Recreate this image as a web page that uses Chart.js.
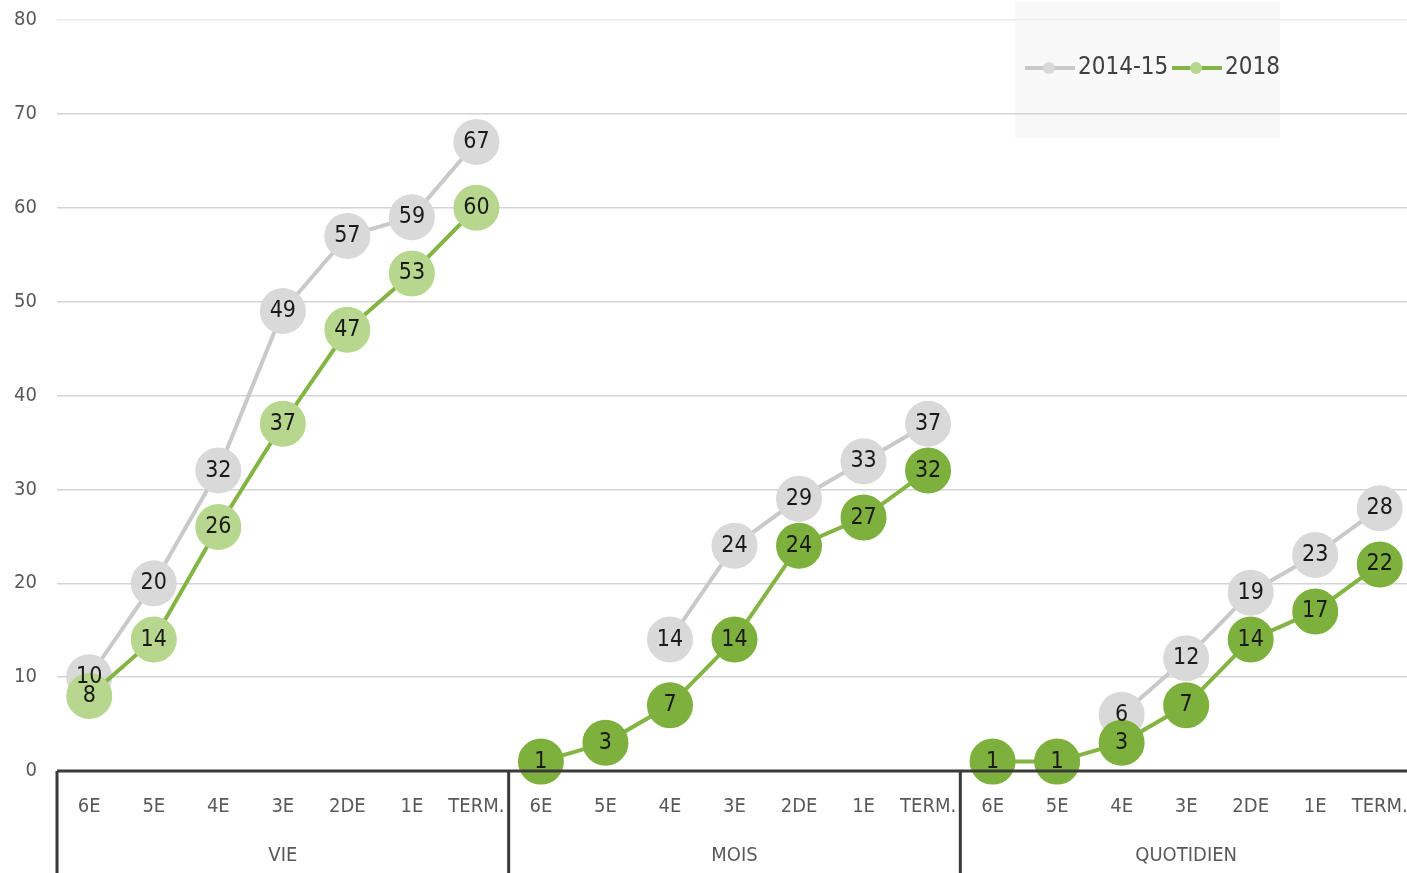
<!DOCTYPE html>
<html>
<head>
<meta charset="utf-8">
<script src="https://cdn.jsdelivr.net/npm/chart.js@4"></script>
<style>
  html, body { margin: 0; padding: 0; overflow: hidden; background: #fff; }
  #wrap { width: 1412px; height: 873px; position: relative; }
</style>
</head>
<body>
<div id="wrap"><canvas id="chart"></canvas></div>
<script>
// classes repeated in each group
const classes = ["6E", "5E", "4E", "3E", "2DE", "1E", "TERM."];
const groups = ["VIE", "MOIS", "QUOTIDIEN"];
const labels = groups.flatMap(() => classes);

// values per group: VIE, MOIS, QUOTIDIEN
const serie2014 = [10, 20, 32, 49, 57, 59, 67,  null, null, 14, 24, 29, 33, 37,  null, null, 6, 12, 19, 23, 28];
const serie2018 = [8, 14, 26, 37, 47, 53, 60,  1, 3, 7, 14, 24, 27, 32,  1, 1, 3, 7, 14, 17, 22];
const yTicks = [0, 10, 20, 30, 40, 50, 60, 70, 80];

const GRAY = "#c9c9c9";
const GRAY_PT = "#d9d9d9";
const GREEN = "#84b443";
const GREEN_LIGHT = "#b7d78f";
const GREEN_PT = "#7eb03d";
const NARROW = "'Liberation Sans Narrow', 'DejaVu Sans Condensed', sans-serif";

// hide the link between the last class of a group and the first of the next
const cutGroups = (color) => ({
  borderColor: ctx => (ctx.p0DataIndex % 7 === 6 ? "rgba(0,0,0,0)" : color)
});

const groupAxis = {
  id: "groupAxis",
  beforeDraw(chart) {
    const ctx = chart.ctx;
    ctx.save();
    ctx.fillStyle = "#f8f8f8";
    ctx.fillRect(1015, 2, 265, 136);
    ctx.restore();
  },
  afterDraw(chart) {
    const ctx = chart.ctx;
    const x = chart.scales.x;
    const area = chart.chartArea;
    const half = (x.getPixelForValue(1) - x.getPixelForValue(0)) / 2;
    ctx.save();
    ctx.strokeStyle = "#3a3a3a";
    ctx.lineWidth = 3;
    ctx.beginPath();
    ctx.moveTo(area.left, area.bottom);
    ctx.lineTo(chart.width, area.bottom);
    groups.forEach((g, i) => {
      const edge = x.getPixelForValue(i * 7) - half;
      ctx.moveTo(edge, area.bottom);
      ctx.lineTo(edge, chart.height);
    });
    ctx.stroke();
    ctx.fillStyle = "#595959";
    ctx.font = "20px " + NARROW;
    ctx.textAlign = "center";
    ctx.textBaseline = "middle";
    groups.forEach((g, i) => {
      const mid = x.getPixelForValue(i * 7 + 3);
      ctx.fillText(g, mid, 856);
    });

    // legend
    const items = [
      { text: "2014-15", line: GRAY, pt: GRAY_PT, x: 1025 },
      { text: "2018", line: GREEN, pt: GREEN_LIGHT, x: 1172 }
    ];
    items.forEach(it => {
      ctx.strokeStyle = it.line;
      ctx.lineWidth = 4;
      ctx.beginPath();
      ctx.moveTo(it.x, 68);
      ctx.lineTo(it.x + 50, 68);
      ctx.stroke();
      ctx.fillStyle = it.pt;
      ctx.beginPath();
      ctx.arc(it.x + 24, 68, 6, 0, Math.PI * 2);
      ctx.fill();
      ctx.fillStyle = "#404040";
      ctx.font = "24px " + NARROW;
      ctx.textAlign = "left";
      ctx.fillText(it.text, it.x + 53, 68);
    });
    ctx.restore();
  }
};

const valueLabels = {
  id: "valueLabels",
  afterDatasetsDraw(chart) {
    const ctx = chart.ctx;
    ctx.save();
    ctx.fillStyle = "#1a1a1a";
    ctx.font = "23px " + NARROW;
    ctx.textAlign = "center";
    ctx.textBaseline = "middle";
    [0, 1].forEach(di => {
      const meta = chart.getDatasetMeta(di);
      const data = chart.data.datasets[di].data;
      meta.data.forEach((pt, i) => {
        if (data[i] === null) return;
        ctx.fillText(String(data[i]), pt.x, pt.y);
      });
    });
    ctx.restore();
  }
};

new Chart(document.getElementById("chart"), {
  type: "line",
  data: {
    labels: labels,
    datasets: [{
      label: "2014-15",
      data: serie2014,
      order: 1,
      clip: false,
      borderColor: GRAY,
      borderWidth: 4,
      pointRadius: 21,
      pointBackgroundColor: GRAY_PT,
      pointBorderColor: GRAY_PT,
      spanGaps: false,
      segment: cutGroups(GRAY)
    }, {
      label: "2018",
      data: serie2018,
      order: 0,
      clip: false,
      borderColor: GREEN,
      borderWidth: 4,
      pointRadius: 21,
      pointBackgroundColor: ctx => (ctx.dataIndex < 7 ? GREEN_LIGHT : GREEN_PT),
      pointBorderColor: ctx => (ctx.dataIndex < 7 ? GREEN_LIGHT : GREEN_PT),
      segment: cutGroups(GREEN)
    }]
  },
  options: {
    responsive: true,
    maintainAspectRatio: false,
    animation: false,
    layout: { autoPadding: false, padding: { top: 20, right: 0, left: 0, bottom: 0 } },
    plugins: {
      legend: { display: false },
      tooltip: { enabled: false }
    },
    scales: {
      x: {
        offset: true,
        grid: { display: false },
        border: { display: false },
        ticks: {
          color: "#595959",
          font: { size: 20, family: NARROW },
          padding: 16,
          maxRotation: 0,
          autoSkip: false
        },
        afterFit: s => { s.height = 102; s.paddingLeft = 0; s.paddingRight = 0; }
      },
      y: {
        min: 0,
        max: 80,
        afterBuildTicks: s => { s.ticks = yTicks.map(v => ({ value: v })); },
        grid: {
          color: ctx => (ctx.tick && ctx.tick.value === 80 ? "#ececec" : "#d4d4d4"),
          lineWidth: 1.5,
          drawTicks: false
        },
        border: { display: false },
        ticks: {
          color: "#595959",
          font: { size: 20, family: NARROW },
          padding: 20
        },
        afterFit: s => { s.width = 57; s.paddingTop = 0; s.paddingBottom = 0; }
      }
    }
  },
  plugins: [groupAxis, valueLabels]
});
</script>
</body>
</html>
